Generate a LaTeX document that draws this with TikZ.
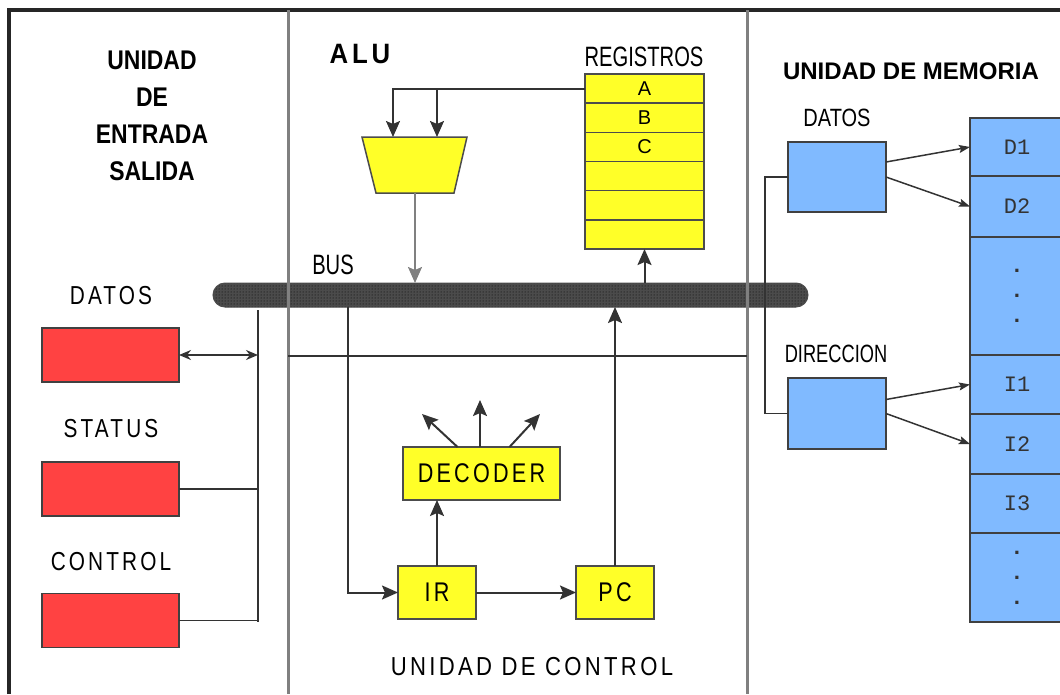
\documentclass[tikz,border=0pt]{standalone}
\usepackage{fontspec}
\setmainfont{Liberation Sans}
\newfontfamily\memfont{Liberation Mono}
\newfontfamily\spacedfont[LetterSpace=15]{Liberation Sans}
\usepackage{graphicx}
\usetikzlibrary{positioning, calc, shapes.geometric, arrows.meta, patterns}
\definecolor{ioRed}{RGB}{255,66,66}
\definecolor{regYellow}{RGB}{255,255,40}
\definecolor{memBlue}{RGB}{128,186,255}
\definecolor{divGray}{RGB}{128,128,128}
\definecolor{busGray}{RGB}{75,75,75}
\newcommand{\condtxt}[2][0.72]{\scalebox{#1}[1]{#2}}

\begin{document}
\begin{tikzpicture}[
        x=1pt, y=-1pt,
        iobox/.style={rectangle, draw=black!75, line width=1.5pt, fill=ioRed, minimum width=137pt, minimum height=54pt, inner sep=0pt, outer sep=0pt},
        ctlbox/.style={rectangle, draw=black!70, line width=1.5pt, fill=regYellow, minimum height=53pt, inner sep=0pt, outer sep=0pt, font=\spacedfont\fontsize{27}{30}\selectfont},
        reg/.style={rectangle, draw=black!70, line width=1.5pt, fill=regYellow, minimum width=119pt, minimum height=29.17pt, inner sep=0pt, outer sep=0pt, font=\fontsize{20}{24}\selectfont},
        membox/.style={rectangle, draw=black!75, line width=1.5pt, fill=memBlue, minimum width=98pt, minimum height=70pt, inner sep=0pt, outer sep=0pt},
        cell/.style={rectangle, draw=black!75, line width=1.5pt, fill=memBlue, minimum width=94pt, inner sep=0pt, outer sep=0pt, text=black!80, font=\memfont\fontsize{22}{25}\selectfont, align=center},
        lbl/.style={inner sep=0pt, font=\spacedfont\fontsize{26}{30}\selectfont},
        heading/.style={inner sep=0pt, font=\bfseries\fontsize{27}{37}\selectfont, align=center},
        conn/.style={draw=black!80, line width=2pt},
        arrow/.style={conn, -{Stealth[length=16pt, width=14pt, inset=3pt]}},
        small arrow/.style={conn, line width=1.5pt, -{Stealth[length=11pt, width=8pt, inset=2pt]}},
        divider/.style={draw=divGray, line width=3pt}
    ]
        \useasboundingbox (0,0) rectangle (1060,694);

        % frame
        \draw[black!85, line width=3.5pt] (9,694) -- (9,10) -- (1060,10);

        % bus
        \node[rectangle, rounded corners=12pt, minimum width=595pt, minimum height=24pt, draw=black!70, line width=1pt, preaction={fill=busGray}, pattern=dots, pattern color=black, inner sep=0pt, outer sep=0pt] (bus) at (510.5,295) {};
        \node[lbl, font=\fontsize{28}{30}\selectfont] (busTitle) at (333,265) {\condtxt{BUS}};

        % columns
        \draw[divider] (288,10) -- (288,694);
        \draw[divider] (747,10) -- (747,694);

        % entrada / salida
        \node[heading] (ioTitle) at (152,115.5) {\condtxt[0.85]{UNIDAD}\\\condtxt[0.85]{DE}\\\condtxt[0.85]{ENTRADA}\\\condtxt[0.85]{SALIDA}};
        \node[iobox] (ioDatos) at (110.5,355) {};
        \node[iobox] (ioStatus) at (110.5,489) {};
        \node[iobox] (ioControl) at (110.5,620.5) {};
        \node[lbl] at (111,296) {\condtxt[0.8]{DATOS}};
        \node[lbl] at (111,429) {\condtxt[0.8]{STATUS}};
        \node[lbl] at (111,562) {\condtxt[0.8]{CONTROL}};

        \coordinate (ioTop) at (258,310);
        \coordinate (ioBot) at (258,622);
        \draw[conn] (ioTop) -- (ioBot);
        \draw[conn, line width=1.5pt, {Stealth[length=12pt, width=10pt]}-{Stealth[length=12pt, width=10pt]}] (ioDatos.east) -- (ioDatos.east -| ioTop);
        \draw[conn, line width=1.5pt] (ioStatus.east) -- (ioStatus.east -| ioTop);
        \draw[conn, line width=1.5pt] (ioControl.east) -- (ioControl.east -| ioTop);

        % ALU and registers
        \node[lbl, font=\spacedfont\bfseries\fontsize{28}{30}\selectfont] (aluTitle) at (360,54) {\condtxt[0.92]{ALU}};
        \node[lbl, font=\fontsize{28}{30}\selectfont] (regTitle) at (644,57) {\condtxt{REGISTROS}};
        \foreach \t [count=\i] in {A,B,C,{},{},{}}
            \node[reg] (R\i) at (644.5,{74+29.17*\i-14.58}) {\t};
        \draw[draw=black!70, line width=1.5pt, fill=regYellow] (362,137) -- (467,137) -- (454,193) -- (376,193) -- cycle;
        \coordinate (aluInA) at (393,137);
        \coordinate (aluInB) at (437,137);
        \coordinate (aluOut) at (415,193);

        \draw[arrow] (R1.west) -| (aluInA);
        \draw[arrow] (R1.west) -| (aluInB);
        \draw[arrow, draw=black!50] (aluOut) -- (aluOut |- bus.north);
        \draw[arrow] (R6.south |- bus.north) -- (R6.south);

        % unidad de control
        \coordinate (ctlLeft) at (288,356);
        \coordinate (ctlRight) at (747,356);
        \draw[conn, line width=1.5pt] (ctlLeft) -- (ctlRight);

        \node[ctlbox, minimum width=157pt] (dec) at (481.5,473.5) {\condtxt[0.8]{DECODER}};
        \node[ctlbox, minimum width=78pt] (ir) at (437,592.5) {\condtxt[0.8]{IR}};
        \node[ctlbox, minimum width=78pt, right=100pt of ir] (pc) {\condtxt[0.8]{PC}};
        \node[lbl] (ctlTitle) at (532,667) {\condtxt[0.85]{UNIDAD DE CONTROL}};

        \coordinate (irTap) at (348,307);
        \coordinate (decOutL) at (422,414);
        \coordinate (decOutM) at (480,400);
        \coordinate (decOutR) at (540,414);
        \draw[arrow] (irTap) |- (ir.west);
        \draw[arrow] (ir.north) -- (ir.north |- dec.south);
        \draw[arrow] (ir.east) -- (pc.west);
        \draw[arrow] (pc.north) -- (pc.north |- bus.south);
        \draw[arrow] ([xshift=-24pt]dec.north) -- (decOutL);
        \draw[arrow] ([xshift=-1.5pt]dec.north) -- (decOutM);
        \draw[arrow] ([xshift=28pt]dec.north) -- (decOutR);

        % memoria
        \node[heading, font=\bfseries\fontsize{24}{28}\selectfont] (memTitle) at (911,71) {UNIDAD DE MEMORIA};
        \node[membox] (mDatos) at (837,177) {};
        \node[membox, minimum height=71pt] (mDir) at (837,413.5) {};
        \node[lbl, font=\fontsize{25}{28}\selectfont] at (837,118) {\condtxt[0.8]{DATOS}};
        \node[lbl, font=\fontsize{25}{28}\selectfont] at (836,354) {\condtxt[0.73]{DIRECCION}};

        \node[cell, minimum height=58pt] (D1) at (1017,147) {D1};
        \node[cell, minimum height=61pt, below=0pt of D1] (D2) {D2};
        \node[cell, minimum height=118pt, below=0pt of D2] (Dmore) {\textbf{.}\\\textbf{.}\\\textbf{.}};
        \node[cell, minimum height=59pt, below=0pt of Dmore] (I1) {I1};
        \node[cell, minimum height=60pt, below=0pt of I1] (I2) {I2};
        \node[cell, minimum height=59pt, below=0pt of I2] (I3) {I3};
        \node[cell, minimum height=89pt, below=0pt of I3] (Imore) {\textbf{.}\\\textbf{.}\\\textbf{.}};

        \draw[conn, line width=1.5pt] (mDatos.west) -- ++(-23,0) |- (mDir.west);
        \draw[small arrow] ([yshift=15pt]mDatos.east) -- (D1.west);
        \draw[small arrow] (mDatos.east) -- (D2.west);
        \draw[small arrow] ([yshift=14pt]mDir.east) -- (I1.west);
        \draw[small arrow] (mDir.east) -- (I2.west);
    \end{tikzpicture}
\end{document}
